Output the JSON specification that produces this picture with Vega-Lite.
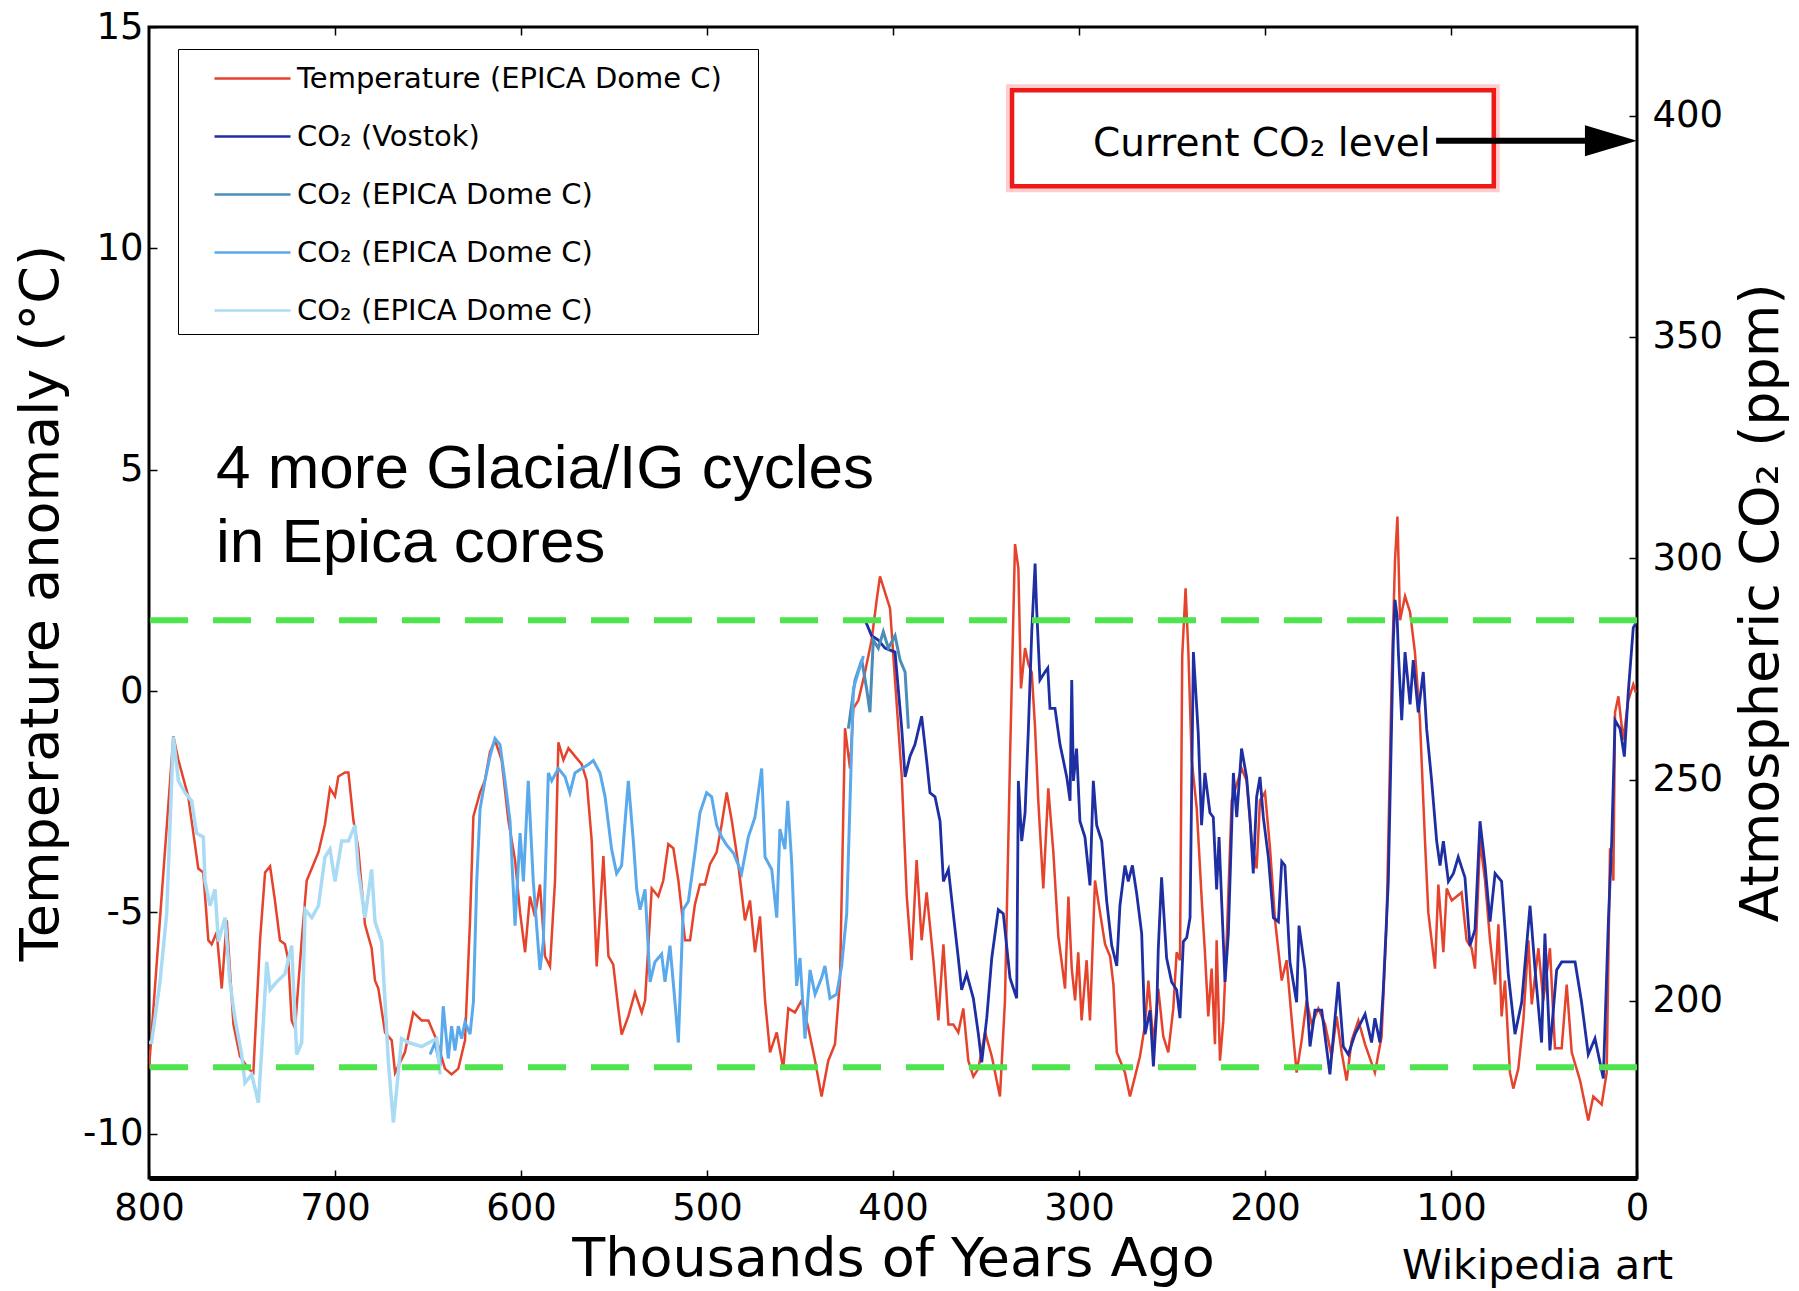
{
"$schema": "https://vega.github.io/schema/vega-lite/v6.json",
"autosize": {"type": "none"},
"padding": {"left": 149, "top": 27, "right": 162, "bottom": 113},
"width": 1488,
"height": 1151,
"background": "white",
"config": {
  "font": "DejaVu Sans",
  "view": {"stroke": "black", "strokeWidth": 3},
  "axis": {"grid": false, "domain": false, "tickColor": "black", "tickWidth": 1.5, "labelColor": "black", "titleColor": "black", "titleFontWeight": "normal", "labelFont": "DejaVu Sans", "titleFont": "DejaVu Sans", "labelFontSize": 37, "titleFontSize": 54, "labelFlush": false}
},
"datasets": {
"temp": [
{"kyr":800,"val":-8.53},{"kyr":786.9,"val":-1.02},{"kyr":784.2,"val":-1.56},{"kyr":778.9,"val":-2.38},{"kyr":773.5,"val":-4.01},{"kyr":770.8,"val":-4.1},{"kyr":768.1,"val":-5.63},{"kyr":766.3,"val":-5.72},{"kyr":763.6,"val":-5.45},{"kyr":760.9,"val":-6.72},{"kyr":758.2,"val":-5.18},{"kyr":754.6,"val":-7.53},{"kyr":751.1,"val":-8.25},{"kyr":746.6,"val":-8.53},{"kyr":743.9,"val":-8.62},{"kyr":740.3,"val":-5.63},{"kyr":737.6,"val":-4.1},{"kyr":734.9,"val":-3.96},{"kyr":732.3,"val":-4.73},{"kyr":729.6,"val":-5.63},{"kyr":726.9,"val":-5.72},{"kyr":725.1,"val":-6.08},{"kyr":723.3,"val":-7.44},{"kyr":721.5,"val":-7.62},{"kyr":717.9,"val":-5.63},{"kyr":715.2,"val":-4.28},{"kyr":712.5,"val":-4.01},{"kyr":708.9,"val":-3.64},{"kyr":705.4,"val":-3.01},{"kyr":702.7,"val":-2.2},{"kyr":700,"val":-2.38},{"kyr":698.2,"val":-1.93},{"kyr":694.6,"val":-1.84},{"kyr":692.8,"val":-1.84},{"kyr":690.1,"val":-2.92},{"kyr":687.5,"val":-3.55},{"kyr":683.9,"val":-5.27},{"kyr":680.3,"val":-5.81},{"kyr":678.5,"val":-6.54},{"kyr":676.7,"val":-6.72},{"kyr":673.1,"val":-7.71},{"kyr":669.5,"val":-7.89},
{"kyr":667.7,"val":-8.62},{"kyr":662.4,"val":-8.16},{"kyr":657.9,"val":-7.26},{"kyr":653.4,"val":-7.44},{"kyr":649.8,"val":-7.44},{"kyr":645.3,"val":-7.89},{"kyr":640.9,"val":-8.53},{"kyr":637.3,"val":-8.66},{"kyr":633.7,"val":-8.53},{"kyr":630.1,"val":-7.89},{"kyr":627.4,"val":-5.18},{"kyr":625.6,"val":-2.83},{"kyr":622,"val":-2.29},{"kyr":619.4,"val":-2.02},{"kyr":616.7,"val":-1.38},{"kyr":614,"val":-1.11},{"kyr":610.4,"val":-1.56},{"kyr":606.8,"val":-2.92},{"kyr":603.2,"val":-3.82},{"kyr":600.5,"val":-5},{"kyr":597.8,"val":-5.9},{"kyr":595.2,"val":-4.64},{"kyr":592.5,"val":-5.09},{"kyr":589.8,"val":-4.37},{"kyr":587.1,"val":-5.99},{"kyr":584.4,"val":-6.22},{"kyr":581.7,"val":-4.28},{"kyr":579.9,"val":-1.16},{"kyr":577.2,"val":-1.56},{"kyr":574.5,"val":-1.29},{"kyr":571,"val":-1.47},{"kyr":567.4,"val":-1.65},{"kyr":564.7,"val":-2.02},{"kyr":562,"val":-3.37},{"kyr":559.3,"val":-6.22},{"kyr":555.7,"val":-3.73},{"kyr":553,"val":-5.99},{"kyr":550.4,"val":-6.18},{"kyr":547.7,"val":-7.17},{"kyr":545.9,"val":-7.76},{"kyr":542.3,"val":-7.35},{"kyr":538.7,"val":-6.81},{"kyr":535.1,"val":-7.26},{"kyr":533.3,"val":-6.99},
{"kyr":529.7,"val":-4.46},{"kyr":526.2,"val":-4.64},{"kyr":523.5,"val":-4.28},{"kyr":520.8,"val":-3.46},{"kyr":518.1,"val":-3.55},{"kyr":515.4,"val":-4.28},{"kyr":511.8,"val":-5.63},{"kyr":509.1,"val":-5.63},{"kyr":506.5,"val":-4.82},{"kyr":503.8,"val":-4.37},{"kyr":501.1,"val":-4.37},{"kyr":498.4,"val":-3.91},{"kyr":494.8,"val":-3.64},{"kyr":492.1,"val":-3.01},{"kyr":489.4,"val":-2.29},{"kyr":486.7,"val":-2.92},{"kyr":483.2,"val":-3.91},{"kyr":479.6,"val":-5.18},{"kyr":476.9,"val":-4.73},{"kyr":474.2,"val":-5.9},{"kyr":471.5,"val":-5.09},{"kyr":468.8,"val":-6.99},{"kyr":466.1,"val":-8.16},{"kyr":462.5,"val":-7.71},{"kyr":459,"val":-8.53},{"kyr":456.3,"val":-7.17},{"kyr":452.7,"val":-7.26},{"kyr":449.1,"val":-6.99},{"kyr":445.5,"val":-7.62},{"kyr":441.9,"val":-8.35},{"kyr":438.4,"val":-9.16},{"kyr":434.8,"val":-8.35},{"kyr":431.2,"val":-7.98},{"kyr":428.5,"val":-6.54},{"kyr":425.8,"val":-0.84},{"kyr":423.1,"val":-1.75},{"kyr":421.3,"val":-0.39},{"kyr":418.6,"val":-0.21},{"kyr":415.1,"val":0.42},{"kyr":411.5,"val":1.15},{"kyr":408.8,"val":2.05},{"kyr":407,"val":2.59},{"kyr":404.3,"val":2.23},{"kyr":401.6,"val":1.87},{"kyr":398.9,"val":0.24},
{"kyr":395.3,"val":-1.93},{"kyr":392.6,"val":-4.64},{"kyr":390,"val":-6.08},{"kyr":387.3,"val":-3.82},{"kyr":384.6,"val":-5.63},{"kyr":381.9,"val":-4.55},{"kyr":378.3,"val":-6.08},{"kyr":375.6,"val":-7.44},{"kyr":372.9,"val":-5.72},{"kyr":370.2,"val":-7.53},{"kyr":367.6,"val":-7.53},{"kyr":364.9,"val":-7.71},{"kyr":362.2,"val":-7.17},{"kyr":359.5,"val":-8.35},{"kyr":356.8,"val":-8.71},{"kyr":354.1,"val":-8.53},{"kyr":350.5,"val":-7.71},{"kyr":346.9,"val":-8.25},{"kyr":342.5,"val":-9.16},{"kyr":339.8,"val":-6.99},{"kyr":337.1,"val":-1.56},{"kyr":334.4,"val":3.32},{"kyr":332.6,"val":2.78},{"kyr":331.2,"val":0.06},{"kyr":329,"val":0.97},{"kyr":327.2,"val":0.61},{"kyr":325.4,"val":0.42},{"kyr":323.6,"val":-0.84},{"kyr":321.9,"val":-2.47},{"kyr":319.2,"val":-4.46},{"kyr":316.5,"val":-2.2},{"kyr":313.8,"val":-3.64},{"kyr":311.1,"val":-5.54},{"kyr":307.5,"val":-6.72},{"kyr":305.7,"val":-4.64},{"kyr":303.9,"val":-6.27},{"kyr":302.1,"val":-6.99},{"kyr":300.4,"val":-5.9},{"kyr":298.6,"val":-7.44},{"kyr":295.9,"val":-6.08},{"kyr":294.1,"val":-7.44},{"kyr":291.4,"val":-4.28},{"kyr":288.7,"val":-5},{"kyr":286,"val":-5.72},{"kyr":283.3,"val":-5.99},{"kyr":281.5,"val":-6.63},{"kyr":279.7,"val":-8.16},{"kyr":275.3,"val":-8.62},{"kyr":272.6,"val":-9.16},{"kyr":269.9,"val":-8.71},{"kyr":267.2,"val":-8.25},{"kyr":264.5,"val":-7.53},
{"kyr":262.7,"val":-6.54},{"kyr":260,"val":-7.98},{"kyr":257.4,"val":-6.72},{"kyr":254.7,"val":-7.8},{"kyr":252,"val":-8.16},{"kyr":249.3,"val":-7.17},{"kyr":247.5,"val":-5.9},{"kyr":245.7,"val":-6.08},{"kyr":244.5,"val":0.79},{"kyr":242.7,"val":2.32},{"kyr":241.2,"val":0.88},{"kyr":239.4,"val":-1.56},{"kyr":236.7,"val":-2.65},{"kyr":234,"val":-4.73},{"kyr":232.3,"val":-5.9},{"kyr":230.5,"val":-7.35},{"kyr":228.7,"val":-6.27},{"kyr":226.9,"val":-7.98},{"kyr":226,"val":-5.63},{"kyr":224.2,"val":-8.35},{"kyr":222.4,"val":-7.44},{"kyr":220.6,"val":-5.63},{"kyr":217.9,"val":-2.47},{"kyr":215.2,"val":-2.11},{"kyr":212.6,"val":-1.75},{"kyr":209.9,"val":-2.02},{"kyr":207.2,"val":-3.37},{"kyr":204.5,"val":-4.01},{"kyr":202.7,"val":-2.47},{"kyr":200,"val":-2.29},{"kyr":197.3,"val":-3.55},{"kyr":194.6,"val":-5.18},{"kyr":191,"val":-6.54},{"kyr":188.4,"val":-6.08},{"kyr":185.6,"val":-7.44},{"kyr":183,"val":-8.62},{"kyr":180.3,"val":-7.89},{"kyr":177.6,"val":-6.99},{"kyr":174.9,"val":-7.53},{"kyr":171.3,"val":-7.17},{"kyr":167.7,"val":-7.53},{"kyr":164.2,"val":-8.25},{"kyr":161.5,"val":-7.35},{"kyr":158.8,"val":-8.16},{"kyr":156.1,"val":-8.8},{"kyr":153.4,"val":-7.89},{"kyr":149.8,"val":-7.44},{"kyr":146.2,"val":-7.98},{"kyr":140.9,"val":-8.62},{"kyr":137.3,"val":-7.8},{"kyr":134.6,"val":-5.18},{"kyr":131.9,"val":0.24},{"kyr":130.1,"val":2.96},
{"kyr":128.8,"val":3.94},{"kyr":127.4,"val":1.6},{"kyr":124.7,"val":2.14},{"kyr":122,"val":1.78},{"kyr":119.4,"val":0.88},{"kyr":116.7,"val":-0.66},{"kyr":114,"val":-3.37},{"kyr":112.2,"val":-5},{"kyr":108.6,"val":-6.27},{"kyr":106.8,"val":-4.37},{"kyr":104.1,"val":-5.9},{"kyr":102.3,"val":-4.46},{"kyr":99.6,"val":-4.73},{"kyr":94.3,"val":-4.55},{"kyr":91.6,"val":-5.63},{"kyr":88.9,"val":-5.81},{"kyr":87.1,"val":-6.27},{"kyr":84.4,"val":-3.37},{"kyr":81.7,"val":-4.28},{"kyr":79,"val":-5.63},{"kyr":76.3,"val":-6.63},{"kyr":74.5,"val":-5.27},{"kyr":72.8,"val":-7.35},{"kyr":71,"val":-6.54},{"kyr":68.3,"val":-8.62},{"kyr":66.5,"val":-8.98},{"kyr":63.8,"val":-8.53},{"kyr":61.1,"val":-7.44},{"kyr":58.4,"val":-5.63},{"kyr":56.6,"val":-7.08},{"kyr":53,"val":-5.81},{"kyr":50.4,"val":-6.99},{"kyr":46.8,"val":-5.81},{"kyr":44.1,"val":-8.07},{"kyr":40.5,"val":-8.07},{"kyr":37.8,"val":-6.63},{"kyr":35.1,"val":-8.16},{"kyr":30.6,"val":-8.8},{"kyr":26.2,"val":-9.7},{"kyr":23.5,"val":-9.16},{"kyr":19,"val":-9.34},{"kyr":16.3,"val":-8.62},{"kyr":14.5,"val":-3.55},{"kyr":12.7,"val":-4.28},{"kyr":11.8,"val":-0.48},{"kyr":10,"val":-0.12},{"kyr":7.4,"val":-1.11},{"kyr":4.7,"val":-0.21},{"kyr":2,"val":0.15},{"kyr":0.7,"val":-0.03}
],
"vostok": [
{"kyr":415.1,"val":286.1},{"kyr":411.5,"val":282.5},{"kyr":407.9,"val":281.5},{"kyr":404.3,"val":279.7},{"kyr":398.9,"val":278.8},{"kyr":395.3,"val":261.5},{"kyr":393.5,"val":250.6},{"kyr":390.9,"val":255.2},{"kyr":388.2,"val":257.9},{"kyr":384.6,"val":264.3},{"kyr":381.9,"val":254.3},{"kyr":380.1,"val":247},{"kyr":377.4,"val":246.1},{"kyr":374.7,"val":240.6},{"kyr":372.9,"val":227},{"kyr":370.2,"val":229.7},{"kyr":367.6,"val":219.7},{"kyr":364.9,"val":209.7},{"kyr":363.1,"val":202.5},{"kyr":360.4,"val":206.1},{"kyr":356.8,"val":200.6},{"kyr":354.1,"val":192.5},{"kyr":352.3,"val":186.1},{"kyr":349.6,"val":196.1},{"kyr":346.9,"val":209.7},{"kyr":343.4,"val":220.6},{"kyr":340.7,"val":219.7},{"kyr":337.1,"val":205.2},{"kyr":333.5,"val":200.6},{"kyr":332.6,"val":249.7},{"kyr":330.8,"val":236.1},{"kyr":329,"val":242.5},{"kyr":327.2,"val":261.5},{"kyr":325.4,"val":283.4},{"kyr":323.6,"val":298.8},{"kyr":322.8,"val":288.8},{"kyr":321,"val":272.5},{"kyr":318.3,"val":274.3},{"kyr":316.8,"val":275.2},{"kyr":315.6,"val":266.1},{"kyr":312.9,"val":266.1},{"kyr":310.2,"val":257.9},{"kyr":308.4,"val":254.3},{"kyr":306.6,"val":250.6},{"kyr":304.8,"val":245.2},{"kyr":303.9,"val":272.5},{"kyr":303,"val":249.7},{"kyr":301.3,"val":257},{"kyr":299.5,"val":240.6},{"kyr":296.8,"val":237},{"kyr":294.1,"val":226.1},{"kyr":292.3,"val":249.7},{"kyr":290.5,"val":239.7},{"kyr":287.8,"val":236.1},{"kyr":285.1,"val":222.5},{"kyr":282.4,"val":212.5},{"kyr":279.7,"val":207.9},{"kyr":278,"val":221.5},{"kyr":275.3,"val":230.6},{"kyr":273.5,"val":227},{"kyr":271.3,"val":230.6},{"kyr":269,"val":224.3},{"kyr":266.3,"val":215.2},{"kyr":264.5,"val":192.5},{"kyr":261.8,"val":197.9},{"kyr":260,"val":185.2},{"kyr":258.2,"val":197.9},{"kyr":257.4,"val":211.5},{"kyr":255.6,"val":227.9},{"kyr":252.9,"val":209.7},{"kyr":250.2,"val":204.3},{"kyr":247.5,"val":202.5},{"kyr":245.7,"val":196.1},{"kyr":243.9,"val":213.4},{"kyr":242.1,"val":214.3},{"kyr":240.3,"val":218.8},{"kyr":238.5,"val":278.8},{"kyr":235.9,"val":260.6},{"kyr":234.1,"val":239.7},{"kyr":232.3,"val":251.5},{"kyr":229.6,"val":242.5},{"kyr":227.8,"val":241.5},{"kyr":226,"val":225.2},{"kyr":224.7,"val":237},{"kyr":223.3,"val":222.5},{"kyr":221.5,"val":204.3},{"kyr":219.7,"val":215.2},{"kyr":217,"val":251.5},{"kyr":215.2,"val":241.5},{"kyr":212.6,"val":257},{"kyr":209.9,"val":250.6},{"kyr":208.1,"val":241.5},{"kyr":206.3,"val":228.8},{"kyr":204.5,"val":246.1},{"kyr":202.7,"val":250.6},{"kyr":200.9,"val":241.5},{"kyr":198.2,"val":232.5},{"kyr":195.5,"val":218.8},{"kyr":192.8,"val":217.9},{"kyr":191,"val":231.5},{"kyr":189.3,"val":230.6},{"kyr":186.6,"val":208.8},{"kyr":183,"val":199.7},{"kyr":181.7,"val":217},{"kyr":178.5,"val":207},{"kyr":175.8,"val":189.7},{"kyr":173.1,"val":197.9},{"kyr":169.5,"val":197.9},{"kyr":165.1,"val":183.4},{"kyr":160.6,"val":204.3},{"kyr":157.9,"val":189.7},{"kyr":155.2,"val":187.9},{"kyr":151.6,"val":192.5},{"kyr":146.2,"val":197},{"kyr":142.7,"val":190.6},{"kyr":140.9,"val":196.1},{"kyr":138.2,"val":190.6},{"kyr":136.4,"val":202.5},{"kyr":133.7,"val":227},{"kyr":131,"val":281.5},{"kyr":130.1,"val":290.6},{"kyr":129,"val":287},{"kyr":128.3,"val":278.8},{"kyr":126.5,"val":263.4},{"kyr":124.7,"val":278.8},{"kyr":122,"val":267},{"kyr":120.3,"val":277},{"kyr":117.6,"val":265.2},{"kyr":114.9,"val":274.3},{"kyr":113.1,"val":261.5},{"kyr":110.4,"val":249.7},{"kyr":107.7,"val":236.1},{"kyr":105.9,"val":230.6},{"kyr":104.1,"val":236.1},{"kyr":101.4,"val":227},{"kyr":98.7,"val":228.8},{"kyr":96.1,"val":232.5},{"kyr":92.5,"val":227.9},{"kyr":89.8,"val":212.5},{"kyr":87.1,"val":216.1},{"kyr":84.4,"val":240.6},{"kyr":81.7,"val":230.6},{"kyr":79,"val":217.9},{"kyr":76.3,"val":228.8},{"kyr":72.8,"val":227},{"kyr":69.2,"val":206.1},{"kyr":65.6,"val":192.5},{"kyr":62,"val":199.7},{"kyr":57.5,"val":221.5},{"kyr":54.8,"val":207},{"kyr":51.3,"val":190.6},{"kyr":49.5,"val":215.2},{"kyr":46.8,"val":188.8},{"kyr":43.2,"val":207},{"kyr":40.5,"val":208.8},{"kyr":33.3,"val":208.8},{"kyr":29.8,"val":199.7},{"kyr":26.2,"val":187.9},{"kyr":22.6,"val":191.5},{"kyr":18.1,"val":182.5},{"kyr":15.4,"val":217.9},{"kyr":13.6,"val":236.1},{"kyr":11.8,"val":263.4},{"kyr":9.1,"val":261.5},{"kyr":6.8,"val":255.2},{"kyr":4.7,"val":269.7},{"kyr":2,"val":284.3},{"kyr":0.7,"val":285.2}
],
"edc1": [
{"kyr":424,"val":261.5},{"kyr":420.4,"val":272.5},{"kyr":416.8,"val":277},{"kyr":414.2,"val":270.6},{"kyr":412.4,"val":265.2},{"kyr":410.6,"val":281.5},{"kyr":407.9,"val":279.7},{"kyr":405.2,"val":283.4},{"kyr":402.5,"val":279.7},{"kyr":398.9,"val":282.5},{"kyr":396.2,"val":277},{"kyr":393.5,"val":274.3},{"kyr":391.7,"val":261.5}
],
"edc2": [
{"kyr":648.9,"val":187.9},{"kyr":646.2,"val":190.6},{"kyr":643.5,"val":185.2},{"kyr":641.8,"val":198.8},{"kyr":639.1,"val":187},{"kyr":637.3,"val":194.3},{"kyr":635.5,"val":188.8},{"kyr":633.7,"val":194.3},{"kyr":631.9,"val":191.5},{"kyr":630.1,"val":195.2},{"kyr":627.4,"val":192.5},{"kyr":625.6,"val":199.7},{"kyr":623.8,"val":227},{"kyr":622,"val":243.4},{"kyr":619.4,"val":249.7},{"kyr":616.7,"val":255.2},{"kyr":614,"val":259.3},{"kyr":611.3,"val":257.9},{"kyr":608.6,"val":249.7},{"kyr":605.9,"val":240.6},{"kyr":603.2,"val":217},{"kyr":600.5,"val":237.9},{"kyr":598.7,"val":227},{"kyr":596.1,"val":249.7},{"kyr":593.4,"val":227},{"kyr":589.8,"val":207},{"kyr":588,"val":213.4},{"kyr":585.3,"val":251.5},{"kyr":583.5,"val":249.7},{"kyr":579.9,"val":252.5},{"kyr":576.3,"val":250.6},{"kyr":573.7,"val":247},{"kyr":571,"val":251.5},{"kyr":567.4,"val":252.5},{"kyr":563.8,"val":253.4},{"kyr":561.1,"val":254.3},{"kyr":557.5,"val":251.5},{"kyr":554.8,"val":246.1},{"kyr":551.3,"val":234.3},{"kyr":548.6,"val":228.8},{"kyr":545.9,"val":230.6},{"kyr":542.3,"val":249.7},{"kyr":539.6,"val":236.1},{"kyr":537.8,"val":225.2},{"kyr":536,"val":220.6},{"kyr":533.3,"val":225.2},{"kyr":530.6,"val":204.3},{"kyr":528,"val":208.8},{"kyr":524.4,"val":210.6},{"kyr":522.6,"val":204.3},{"kyr":519.9,"val":212.5},{"kyr":517.2,"val":199.7},{"kyr":515.4,"val":190.6},{"kyr":512.8,"val":220.6},{"kyr":510,"val":222.5},{"kyr":506.5,"val":233.4},{"kyr":503.8,"val":242.5},{"kyr":500.2,"val":247},{"kyr":497.5,"val":246.1},{"kyr":494.8,"val":239.7},{"kyr":492.1,"val":237},{"kyr":489.4,"val":235.2},{"kyr":485.8,"val":233.4},{"kyr":481.4,"val":228.8},{"kyr":477.8,"val":237},{"kyr":474.2,"val":241.5},{"kyr":472.4,"val":247},{"kyr":470.6,"val":252.5},{"kyr":468.8,"val":232.5},{"kyr":465.2,"val":229.7},{"kyr":462.5,"val":218.8},{"kyr":460.8,"val":238.8},{"kyr":458.1,"val":234.3},{"kyr":456.6,"val":245.2},{"kyr":454.5,"val":231.5},{"kyr":451.8,"val":203.4},{"kyr":450,"val":209.7},{"kyr":447.3,"val":191.5},{"kyr":444.6,"val":207},{"kyr":441.9,"val":201.5},{"kyr":438.4,"val":205.2},{"kyr":436.6,"val":207.9},{"kyr":433.9,"val":200.6},{"kyr":430.3,"val":201.5},{"kyr":427.6,"val":207.9},{"kyr":424.9,"val":219.7},{"kyr":423.1,"val":245.2},{"kyr":421.3,"val":270.6},{"kyr":418.6,"val":274.3},{"kyr":415.9,"val":277.9}
],
"edc3": [
{"kyr":800,"val":190.6},{"kyr":798.6,"val":190.6},{"kyr":794.1,"val":204.3},{"kyr":790.5,"val":219.7},{"kyr":786.9,"val":259.7},{"kyr":784.2,"val":249.7},{"kyr":780.6,"val":247},{"kyr":777.1,"val":245.2},{"kyr":774.4,"val":237.9},{"kyr":770.8,"val":237},{"kyr":769.9,"val":227},{"kyr":767.2,"val":221.5},{"kyr":764.5,"val":225.2},{"kyr":762.7,"val":213.4},{"kyr":759.1,"val":218.8},{"kyr":756.5,"val":204.3},{"kyr":753.8,"val":196.1},{"kyr":750.2,"val":187.9},{"kyr":748.4,"val":181.5},{"kyr":744.8,"val":183.4},{"kyr":741.2,"val":177},{"kyr":739.4,"val":188.8},{"kyr":736.7,"val":208.8},{"kyr":734.9,"val":202.5},{"kyr":731.4,"val":204.3},{"kyr":726.9,"val":206.1},{"kyr":723.3,"val":212.5},{"kyr":720.6,"val":187.9},{"kyr":717.9,"val":190.6},{"kyr":716.1,"val":220.6},{"kyr":712.5,"val":218.8},{"kyr":708.9,"val":221.5},{"kyr":705.4,"val":232.5},{"kyr":702.7,"val":234.3},{"kyr":700,"val":227},{"kyr":696.4,"val":236.1},{"kyr":692.8,"val":236.1},{"kyr":689.2,"val":239.7},{"kyr":687.5,"val":229.7},{"kyr":683.9,"val":218.8},{"kyr":680.3,"val":229.7},{"kyr":678.5,"val":217.9},{"kyr":674.9,"val":213.4},{"kyr":671.3,"val":186.1},{"kyr":668.6,"val":172.5},{"kyr":664.2,"val":191.5},{"kyr":660.6,"val":190.6},{"kyr":653.4,"val":189.7},{"kyr":645.3,"val":191.5},{"kyr":643.5,"val":183.4}
]
},
"layer": [
{
  "data": {"name": "temp"},
  "mark": {"type": "line", "strokeWidth": 2.5, "clip": true},
  "encoding": {
    "x": {"field": "kyr", "type": "quantitative", "scale": {"domain": [0, 800], "reverse": true, "nice": false, "zero": false},
          "axis": {"orient": "bottom", "values": [0,100,200,300,400,500,600,700,800], "tickSize": -8, "labelPadding": 20, "labelExpr": "datum.value + ''", "title": "Thousands of Years Ago", "titlePadding": 6, "domain": true, "domainWidth": 5, "domainColor": "black"}},
    "y": {"field": "val", "type": "quantitative", "scale": {"domain": [-11, 15], "nice": false, "zero": false},
          "axis": {"orient": "left", "values": [-10,-5,0,5,10,15], "tickSize": -8, "labelPadding": 14, "labelExpr": "datum.value + ''", "title": "Temperature anomaly (°C)", "titlePadding": 14}},
    "color": {"datum": "Temperature (EPICA Dome C)", "type": "nominal",
              "scale": {"domain": ["Temperature (EPICA Dome C)", "CO₂ (Vostok)", "CO₂ (EPICA Dome C) #1", "CO₂ (EPICA Dome C) #2", "CO₂ (EPICA Dome C) #3"], "range": ["#e5432c", "#1e2ea3", "#4b8db8", "#5aa9ec", "#a9dcf4"]},
              "legend": {"orient": "none", "legendX": 29, "legendY": 22, "title": "MM", "titleColor": "transparent", "titleOrient": "right", "titleFontSize": 13, "titlePadding": 2, "symbolType": "M-1.9,0L1.9,0", "symbolSize": 1600, "symbolStrokeWidth": 2.5, "symbolFillColor": "transparent", "labelFontSize": 29, "labelFont": "DejaVu Sans", "labelColor": "black", "padding": 8, "symbolOffset": 45, "labelOffset": 23, "rowPadding": 21, "strokeColor": "black", "fillColor": "white", "labelLimit": 0, "labelExpr": "split(datum.label, ' #')[0]"}}
  }
},
{
  "data": {"values": [{"kyr": 764, "t": 4.59, "label": "4 more Glacia/IG cycles"}, {"kyr": 764, "t": 2.92, "label": "in Epica cores"}]},
  "mark": {"type": "text", "font": "Liberation Sans", "fontSize": 62, "align": "left", "baseline": "alphabetic", "color": "black"},
  "encoding": {
    "x": {"field": "kyr", "type": "quantitative", "scale": {"domain": [0, 800], "reverse": true, "nice": false, "zero": false}, "axis": null},
    "y": {"field": "t", "type": "quantitative", "scale": {"domain": [-11, 15], "nice": false, "zero": false}, "axis": null},
    "text": {"field": "label"}
  }
},
{
  "data": {"name": "vostok"},
  "mark": {"type": "line", "strokeWidth": 2.8, "clip": true},
  "encoding": {
    "x": {"field": "kyr", "type": "quantitative", "scale": {"domain": [0, 800], "reverse": true, "nice": false, "zero": false},
          "axis": {"orient": "top", "values": [100,200,300,400,500,600,700], "tickSize": -8, "labels": false, "title": null}},
    "y": {"field": "val", "type": "quantitative", "scale": {"domain": [160, 420], "nice": false, "zero": false},
          "axis": {"orient": "right", "values": [200,250,300,350,400], "tickSize": -8, "labelPadding": 23, "title": "Atmospheric CO₂ (ppm)", "titleAngle": 270, "titleBaseline": "top", "titlePadding": 12}},
    "color": {"datum": "CO₂ (Vostok)", "type": "nominal"}
  }
},
{
  "data": {"name": "edc1"},
  "mark": {"type": "line", "strokeWidth": 3, "clip": true},
  "encoding": {
    "x": {"field": "kyr", "type": "quantitative", "scale": {"domain": [0, 800], "reverse": true, "nice": false, "zero": false}, "axis": null},
    "y": {"field": "val", "type": "quantitative", "scale": {"domain": [160, 420], "nice": false, "zero": false}, "axis": null},
    "color": {"datum": "CO₂ (EPICA Dome C) #1", "type": "nominal"}
  }
},
{
  "data": {"name": "edc2"},
  "mark": {"type": "line", "strokeWidth": 3, "clip": true},
  "encoding": {
    "x": {"field": "kyr", "type": "quantitative", "scale": {"domain": [0, 800], "reverse": true, "nice": false, "zero": false}, "axis": null},
    "y": {"field": "val", "type": "quantitative", "scale": {"domain": [160, 420], "nice": false, "zero": false}, "axis": null},
    "color": {"datum": "CO₂ (EPICA Dome C) #2", "type": "nominal"}
  }
},
{
  "data": {"name": "edc3"},
  "mark": {"type": "line", "strokeWidth": 3.5, "clip": true},
  "encoding": {
    "x": {"field": "kyr", "type": "quantitative", "scale": {"domain": [0, 800], "reverse": true, "nice": false, "zero": false}, "axis": null},
    "y": {"field": "val", "type": "quantitative", "scale": {"domain": [160, 420], "nice": false, "zero": false}, "axis": null},
    "color": {"datum": "CO₂ (EPICA Dome C) #3", "type": "nominal"}
  }
},
{
  "data": {"values": [{"c": 286}, {"c": 185}]},
  "mark": {"type": "rule", "color": "#4ee44e", "strokeWidth": 6, "strokeDash": [38, 25]},
  "encoding": {
    "y": {"field": "c", "type": "quantitative", "scale": {"domain": [160, 420], "nice": false, "zero": false}, "axis": null}
  }
},
{
  "data": {"values": [{"k1": 336, "k2": 77, "c1": 384, "c2": 405.7}]},
  "mark": {"type": "rect", "fill": "white", "stroke": "#ff5a5a", "strokeOpacity": 0.3, "strokeWidth": 12},
  "encoding": {
    "x": {"field": "k1", "type": "quantitative", "scale": {"domain": [0, 800], "reverse": true, "nice": false, "zero": false}, "axis": null},
    "x2": {"field": "k2"},
    "y": {"field": "c1", "type": "quantitative", "scale": {"domain": [160, 420], "nice": false, "zero": false}, "axis": null},
    "y2": {"field": "c2"}
  }
},
{
  "data": {"values": [{"k1": 336, "k2": 77, "c1": 384, "c2": 405.7}]},
  "mark": {"type": "rect", "fill": "white", "stroke": "#ee1a1a", "strokeWidth": 4.5},
  "encoding": {
    "x": {"field": "k1", "type": "quantitative", "scale": {"domain": [0, 800], "reverse": true, "nice": false, "zero": false}, "axis": null},
    "x2": {"field": "k2"},
    "y": {"field": "c1", "type": "quantitative", "scale": {"domain": [160, 420], "nice": false, "zero": false}, "axis": null},
    "y2": {"field": "c2"}
  }
},
{
  "data": {"values": [{"kyr": 111, "c": 393.5, "label": "Current CO₂ level"}]},
  "mark": {"type": "text", "font": "DejaVu Sans", "fontSize": 39, "align": "right", "baseline": "middle", "color": "black"},
  "encoding": {
    "x": {"field": "kyr", "type": "quantitative", "scale": {"domain": [0, 800], "reverse": true, "nice": false, "zero": false}, "axis": null},
    "y": {"field": "c", "type": "quantitative", "scale": {"domain": [160, 420], "nice": false, "zero": false}, "axis": null},
    "text": {"field": "label"}
  }
},
{
  "data": {"values": [{"k1": 108, "k2": 20, "c": 394.3}]},
  "mark": {"type": "rule", "color": "black", "strokeWidth": 6},
  "encoding": {
    "x": {"field": "k1", "type": "quantitative", "scale": {"domain": [0, 800], "reverse": true, "nice": false, "zero": false}, "axis": null},
    "x2": {"field": "k2"},
    "y": {"field": "c", "type": "quantitative", "scale": {"domain": [160, 420], "nice": false, "zero": false}, "axis": null}
  }
},
{
  "data": {"values": [{"kyr": 14, "c": 394.3}]},
  "mark": {"type": "point", "shape": "M-1,-0.6L1,0L-1,0.6Z", "filled": true, "color": "black", "opacity": 1, "size": 2704},
  "encoding": {
    "x": {"field": "kyr", "type": "quantitative", "scale": {"domain": [0, 800], "reverse": true, "nice": false, "zero": false}, "axis": null},
    "y": {"field": "c", "type": "quantitative", "scale": {"domain": [160, 420], "nice": false, "zero": false}, "axis": null}
  }
},
{
  "data": {"values": [{"kyr": 126.3, "c": 144.5, "label": "Wikipedia art"}]},
  "mark": {"type": "text", "font": "DejaVu Sans", "fontSize": 41, "align": "left", "baseline": "top", "color": "black"},
  "encoding": {
    "x": {"field": "kyr", "type": "quantitative", "scale": {"domain": [0, 800], "reverse": true, "nice": false, "zero": false}, "axis": null},
    "y": {"field": "c", "type": "quantitative", "scale": {"domain": [160, 420], "nice": false, "zero": false}, "axis": null},
    "text": {"field": "label"}
  }
}
],
"resolve": {"scale": {"y": "independent"}, "axis": {"x": "independent"}}
}
